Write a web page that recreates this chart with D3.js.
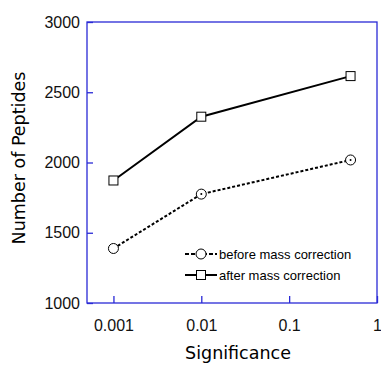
<!DOCTYPE html>
<html>
<head>
<meta charset="UTF-8"/>
<style>
  body { margin: 0; background: #fff; }
</style>
</head>
<body>
<script src="https://d3js.org/d3.v7.min.js"></script>
<script>
  var significance = [0.001, 0.01, 0.5];
  var beforeCorrection = [1388, 1775, 2018];
  var afterCorrection = [1872, 2326, 2615];
  var xTicks = [0.001, 0.01, 0.1, 1];
  var yTicks = [1000, 1500, 2000, 2500, 3000];
  var seriesNames = ["before mass correction", "after mass correction"];

  var width = 381, height = 365;
  var plotLeft = 87, plotRight = 377, plotTop = 22, plotBottom = 303;
  var frameColor = "#2a2ad6";

  var svg = d3.select("body").append("svg")
    .attr("width", width)
    .attr("height", height);

  var x = d3.scaleLog().domain([0.0005, 1]).range([plotLeft, plotRight]);
  var y = d3.scaleLinear().domain([1000, 3000]).range([plotBottom, plotTop]);

  // frame
  svg.append("rect")
    .attr("x", plotLeft).attr("y", plotTop)
    .attr("width", plotRight - plotLeft).attr("height", plotBottom - plotTop)
    .attr("fill", "none").attr("stroke", frameColor).attr("stroke-width", 1.3);

  var gx = svg.append("g")
    .attr("transform", "translate(0," + plotBottom + ")")
    .call(d3.axisBottom(x).tickValues(xTicks).tickSizeInner(-7).tickSizeOuter(0)
      .tickPadding(17).tickFormat(function(d) { return String(d); }));
  gx.select(".domain").remove();
  gx.selectAll(".tick line").attr("stroke", frameColor).attr("stroke-width", 1.3);
  gx.selectAll("text").attr("font-family", "Liberation Sans, Arial, sans-serif")
    .attr("font-size", 16).attr("fill", "#111");

  var gy = svg.append("g")
    .attr("transform", "translate(" + plotLeft + ",0)")
    .call(d3.axisLeft(y).tickValues(yTicks).tickSizeInner(-6).tickSizeOuter(0)
      .tickPadding(7).tickFormat(d3.format("d")));
  gy.select(".domain").remove();
  gy.selectAll(".tick line").attr("stroke", frameColor).attr("stroke-width", 1.3);
  gy.selectAll("text").attr("font-family", "Liberation Sans, Arial, sans-serif")
    .attr("font-size", 16).attr("fill", "#111");

  // axis titles
  svg.append("text")
    .attr("x", 238).attr("y", 359)
    .attr("text-anchor", "middle")
    .attr("font-family", "Comic Sans MS, DejaVu Sans, sans-serif")
    .attr("font-size", 17.5)
    .text("Significance");

  svg.append("text")
    .attr("transform", "translate(25,158) rotate(-90)")
    .attr("text-anchor", "middle")
    .attr("font-family", "Comic Sans MS, DejaVu Sans, sans-serif")
    .attr("font-size", 17.5)
    .text("Number of Peptides");

  var line = d3.line()
    .x(function(d) { return x(d[0]); })
    .y(function(d) { return y(d[1]); });

  var beforePts = significance.map(function(s, i) { return [s, beforeCorrection[i]]; });
  var afterPts = significance.map(function(s, i) { return [s, afterCorrection[i]]; });

  svg.append("path").datum(beforePts).attr("d", line)
    .attr("fill", "none").attr("stroke", "#000").attr("stroke-width", 2)
    .attr("stroke-dasharray", "3,2");
  svg.append("path").datum(afterPts).attr("d", line)
    .attr("fill", "none").attr("stroke", "#000").attr("stroke-width", 2);

  svg.selectAll(".circ").data(beforePts).enter().append("circle")
    .attr("cx", function(d) { return x(d[0]); })
    .attr("cy", function(d) { return y(d[1]); })
    .attr("r", 5).attr("fill", "#fff").attr("stroke", "#000").attr("stroke-width", 1);
  svg.selectAll(".cdot").data(beforePts.slice(1)).enter().append("circle")
    .attr("cx", function(d) { return x(d[0]); })
    .attr("cy", function(d) { return y(d[1]); })
    .attr("r", 1).attr("fill", "#000");

  svg.selectAll(".sq").data(afterPts).enter().append("rect")
    .attr("x", function(d) { return x(d[0]) - 4.5; })
    .attr("y", function(d) { return y(d[1]) - 4.5; })
    .attr("width", 9).attr("height", 9)
    .attr("fill", "#fff").attr("stroke", "#000").attr("stroke-width", 1);

  // legend
  var legend = svg.append("g").attr("transform", "translate(185,254)");
  seriesNames.forEach(function(name, i) {
    var g = legend.append("g").attr("transform", "translate(0," + i * 21 + ")");
    g.append("line").attr("x1", 0).attr("x2", 32).attr("y1", 0).attr("y2", 0)
      .attr("stroke", "#000").attr("stroke-width", 2)
      .attr("stroke-dasharray", i === 0 ? "4,2" : null);
    if (i === 0) {
      g.append("circle").attr("cx", 16).attr("cy", 0).attr("r", 5)
        .attr("fill", "#fff").attr("stroke", "#000");
    } else {
      g.append("rect").attr("x", 11.5).attr("y", -4.5).attr("width", 9).attr("height", 9)
        .attr("fill", "#fff").attr("stroke", "#000");
    }
    g.append("text").attr("x", 34).attr("y", 4.5)
      .attr("font-family", "Liberation Sans, Arial, sans-serif")
      .attr("font-size", 13)
      .text(name);
  });
</script>
</body>
</html>
